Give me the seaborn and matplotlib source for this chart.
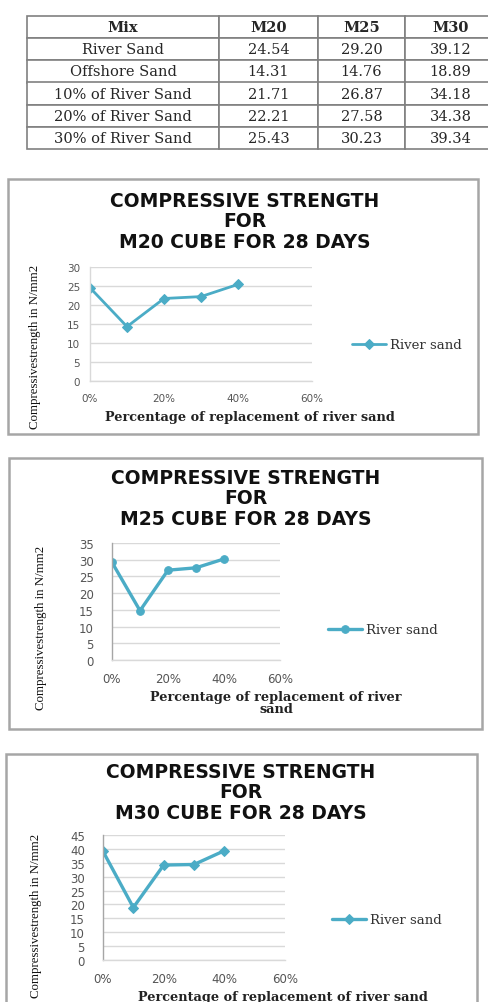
import pandas as pd
import matplotlib
matplotlib.use("Agg")
import matplotlib.pyplot as plt
from matplotlib.patches import Rectangle
import seaborn as sns

# 表格数据
mix_names = ["River Sand", "Offshore Sand", "10% of River Sand",
             "20% of River Sand", "30% of River Sand"]
grades = ["M20", "M25", "M30"]
m20_strength = [24.54, 14.31, 21.71, 22.21, 25.43]
m25_strength = [29.20, 14.76, 26.87, 27.58, 30.23]
m30_strength = [39.12, 18.89, 34.18, 34.38, 39.34]

# 折线图横轴: 河砂替代百分比
replacement_pct = [0, 10, 20, 30, 40]
x_ticks = [0, 20, 40, 60]
x_tick_labels = ["0%", "20%", "40%", "60%"]
series_label = "River sand"

W, H = 489, 1003
LINE = "#4BACC6"
BOX = "#a6a6a6"
GRID = "#d9d9d9"


def rect(x0, y0, x1, y1):
    """像素坐标 -> figure 坐标"""
    return [x0 / W, 1 - y1 / H, (x1 - x0) / W, (y1 - y0) / H]


sns.set_style("white")
plt.rcParams['font.family'] = ['DejaVu Sans']

fig = plt.figure(figsize=(W / 100, H / 100), dpi=100)

# ---------- 表格 ----------
tax = fig.add_axes(rect(27, 17, 496, 150))
tax.axis('off')
cell_text = [[name, f"{a:.2f}", f"{b:.2f}", f"{c:.2f}"]
             for name, a, b, c in zip(mix_names, m20_strength, m25_strength, m30_strength)]
col_w = [192, 99, 87, 91]
tbl = tax.table(cellText=cell_text, colLabels=["Mix"] + grades,
                colWidths=[w / sum(col_w) for w in col_w],
                cellLoc='center', bbox=[0, 0, 1, 1])
tbl.auto_set_font_size(False)
for (r, c), cell in tbl.get_celld().items():
    cell.set_edgecolor('#808080')
    cell.set_linewidth(1.2)
    t = cell.get_text()
    t.set_fontfamily('DejaVu Serif')
    t.set_fontsize(10.5)
    if r == 0:
        t.set_fontweight('bold')
tbl.set_clip_on(False)

# ---------- 折线图 ----------
charts = [
    dict(values=m20_strength, grade="M20", box=(8, 180, 478, 435),
         area=(90, 268, 312, 382), ymax=30, marker='D', lw=2.0,
         title_xy=(245, 222), ylab_xy=(41, 347), ypad=7, tsize=7.5,
         xlab="Percentage of replacement of river sand", xlab_xy=(250, 418),
         leg_xy=(352, 346)),
    dict(values=m25_strength, grade="M25", box=(9, 459, 482, 730),
         area=(112, 544, 280, 661), ymax=35, marker='o', lw=2.4,
         title_xy=(246, 499), ylab_xy=(47, 628), ypad=13, tsize=8.5,
         xlab="Percentage of replacement of river\nsand", xlab_xy=(276, 704),
         leg_xy=(328, 631)),
    dict(values=m30_strength, grade="M30", box=(6, 755, 477, 1010),
         area=(103, 836, 285, 961), ymax=45, marker='D', lw=2.4,
         title_xy=(241, 793), ylab_xy=(42, 916), ypad=13, tsize=8.5,
         xlab="Percentage of replacement of river sand", xlab_xy=(283, 998),
         leg_xy=(332, 921)),
]

for ch in charts:
    # 外框
    bx0, by0, bx1, by1 = ch['box']
    fig.add_artist(Rectangle((bx0 / W, 1 - by1 / H), (bx1 - bx0) / W, (by1 - by0) / H,
                             transform=fig.transFigure, fill=False,
                             edgecolor=BOX, linewidth=1.8))

    # 标题
    tx, ty = ch['title_xy']
    fig.text(tx / W, 1 - ty / H,
             f"COMPRESSIVE STRENGTH\nFOR\n{ch['grade']} CUBE FOR 28 DAYS",
             ha='center', va='center', fontsize=13.5, fontweight='bold',
             linespacing=1.12, color='#111111')

    ax = fig.add_axes(rect(*ch['area']))
    df = pd.DataFrame({"pct": replacement_pct, "strength": ch['values']})
    sns.lineplot(data=df, x="pct", y="strength", ax=ax, color=LINE,
                 linewidth=ch['lw'], marker=ch['marker'], markersize=5.5,
                 markeredgecolor=LINE, markerfacecolor=LINE, label=series_label)

    ax.set_xlim(0, 60)
    ax.set_ylim(0, ch['ymax'])
    ax.set_xticks(x_ticks)
    ax.set_xticklabels(x_tick_labels)
    ax.set_yticks(range(0, ch['ymax'] + 1, 5))
    ax.grid(axis='y', color=GRID, linewidth=1)
    ax.grid(axis='x', visible=False)
    for s in ['top', 'right']:
        ax.spines[s].set_visible(False)
    ax.spines['left'].set_color(BOX if ch['grade'] != "M20" else GRID)
    ax.spines['bottom'].set_color(GRID)
    ax.spines['left'].set_linewidth(1)
    ax.spines['bottom'].set_linewidth(1)
    ax.tick_params(axis='x', length=0, pad=8.5, labelsize=ch['tsize'], labelcolor='#555555')
    ax.tick_params(axis='y', length=0, pad=ch['ypad'], labelsize=ch['tsize'], labelcolor='#555555')

    # 轴标签
    ax.set_ylabel("Compressivestrength in N/mm2", fontfamily='Liberation Serif',
                  fontsize=9.3, color='#111111')
    ax.yaxis.set_label_coords(ch['ylab_xy'][0] / W, 1 - ch['ylab_xy'][1] / H,
                              transform=fig.transFigure)
    ax.set_xlabel(ch['xlab'], fontfamily='DejaVu Serif', fontweight='bold',
                  fontsize=9.3, color='#222222', linespacing=0.9)
    ax.xaxis.set_label_coords(ch['xlab_xy'][0] / W, 1 - ch['xlab_xy'][1] / H,
                              transform=fig.transFigure)
    ax.xaxis.label.set_va('center')

    # 图例
    lx, ly = ch['leg_xy']
    leg = ax.legend(loc='center left', bbox_to_anchor=(lx / W, 1 - ly / H),
                    bbox_transform=fig.transFigure, frameon=False,
                    handlelength=2.6, handletextpad=0.3, borderpad=0, borderaxespad=0,
                    prop={'family': 'DejaVu Serif', 'size': 9.5})
    for t in leg.get_texts():
        t.set_color('#333333')

fig.savefig("out.png", dpi=100)
plt.close(fig)
